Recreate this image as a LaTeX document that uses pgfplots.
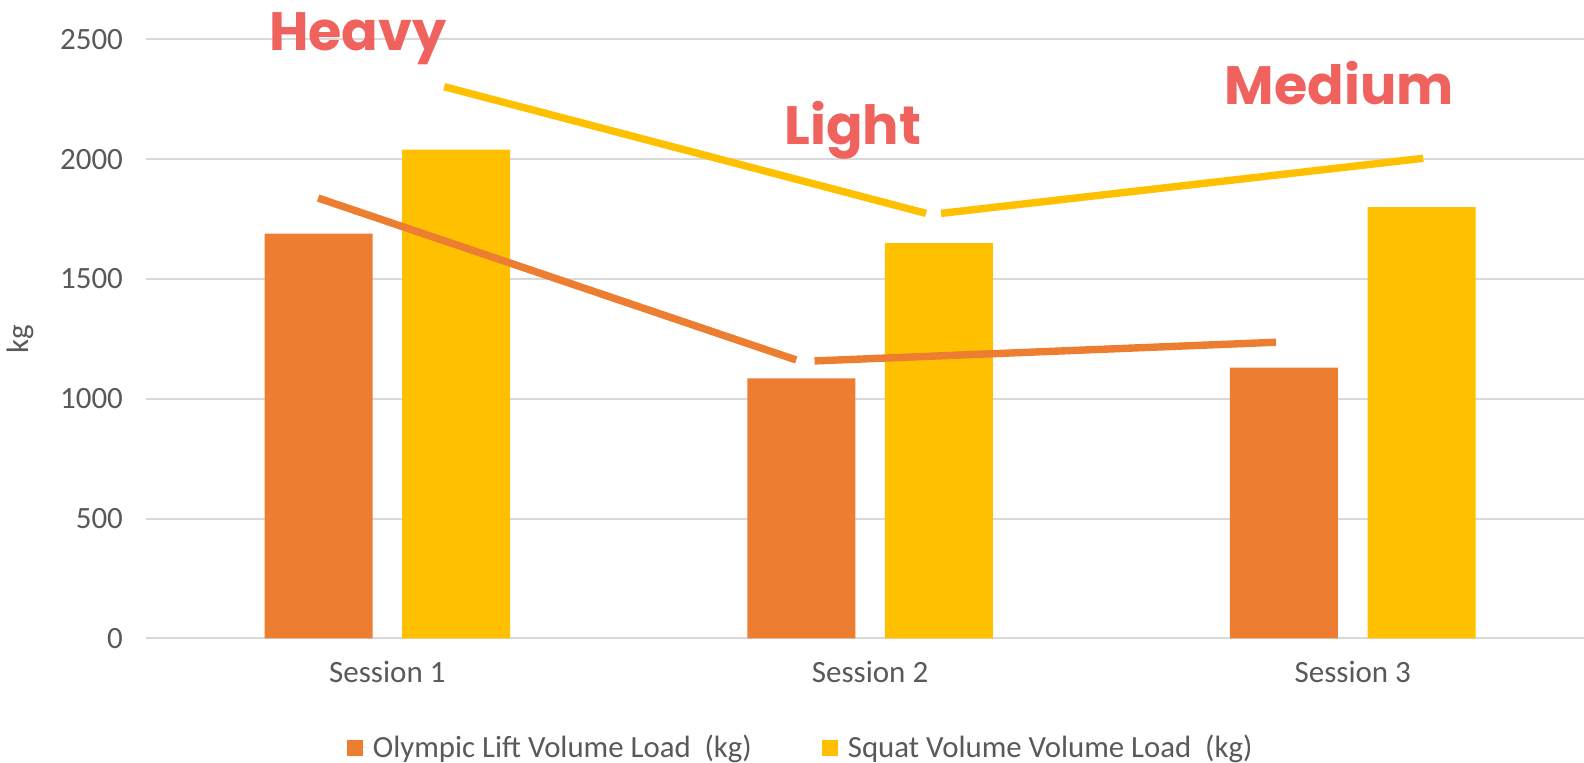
\documentclass[border=0pt]{standalone}
\usepackage{pgfplots}
\pgfplotsset{compat=1.18}
\usepackage{fontspec}
\setmainfont{Carlito}
\newfontfamily\tagfont{Poppins}

\definecolor{olyorange}{HTML}{ED7D31}
\definecolor{squatyellow}{HTML}{FFC000}
\definecolor{tagred}{HTML}{F0625E}
\definecolor{gridgray}{HTML}{D9D9D9}
\definecolor{textgray}{HTML}{595959}

\pgfplotsset{
  squarelegend/.style={legend image code/.code={%
    \fill[##1] (0pt,-4pt) rectangle (8pt,4pt);
    \path (8pt,0pt) -- (11pt,0pt);}},
}

\begin{document}
\begin{tikzpicture}
\begin{axis}[
  scale only axis, width=719pt, height=299.4pt,
  xmin=-0.5, xmax=2.479, ymin=0, ymax=2500,
  axis line style={draw=none},
  major tick length=0pt,
  ytick={0,500,1000,1500,2000,2500},
  xtick={0,1,2}, xticklabels={Session 1, Session 2, Session 3},
  ymajorgrids, grid style={gridgray, line width=1pt},
  /pgf/number format/assume math mode=true,
  /pgf/number format/set thousands separator={},
  tick label style={font=\fontsize{15.5}{18}\selectfont, text=textgray},
  yticklabel style={xshift=-8pt},
  xticklabel style={yshift=-8pt},
  ylabel={kg},
  ylabel style={at={(axis description cs:-0.0876,0.5)}, anchor=center,
    font=\fontsize{15.5}{18}\selectfont, text=textgray},
  legend style={draw=none, fill=none, at={(axis description cs:0.456,-0.1824)},
    anchor=center, legend columns=2,
    font=\fontsize{15.4}{18}\selectfont, text=textgray,
    /tikz/every even column/.append style={column sep=33pt}},
  clip=false,
]
% volume load per session
\addplot[ybar, bar width=54pt, bar shift=-34.4pt, fill=olyorange, draw=none, squarelegend]
  coordinates {(0,1690) (1,1085) (2,1130)};
\addlegendentry{Olympic Lift Volume Load \ (kg)}
\addplot[ybar, bar width=54pt, bar shift=34.4pt, fill=squatyellow, draw=none, squarelegend]
  coordinates {(0,2040) (1,1650) (2,1800)};
\addlegendentry{Squat Volume Volume Load \ (kg)}

% trend strokes
\addplot[forget plot, no marks, olyorange, line width=3.7pt] coordinates {(-0.1434,1838) (0.847,1162)};
\addplot[forget plot, no marks, olyorange, line width=3.7pt] coordinates {(0.885,1158) (1.841,1236)};
\addplot[forget plot, no marks, squatyellow, line width=3.7pt] coordinates {(0.1177,2303) (1.116,1774)};
\addplot[forget plot, no marks, squatyellow, line width=3.7pt] coordinates {(1.147,1774) (2.146,2004)};

% intensity tags
\node[font=\tagfont\bfseries\fontsize{27}{30}\selectfont, text=tagred, anchor=base] at (axis cs:-0.0615,2453) {Heavy};
\node[font=\tagfont\bfseries\fontsize{27}{30}\selectfont, text=tagred, anchor=base] at (axis cs:0.964,2060) {Light};
\node[font=\tagfont\bfseries\fontsize{27}{30}\selectfont, text=tagred, anchor=base] at (axis cs:1.972,2229) {Medium};
\end{axis}
\pgfresetboundingbox
\path (-73pt,-62.35pt) rectangle (719pt,319.15pt);
\end{tikzpicture}
\end{document}
